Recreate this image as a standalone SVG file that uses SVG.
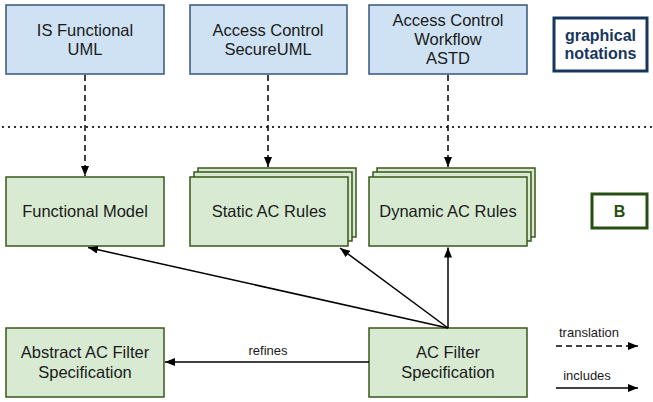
<svg xmlns="http://www.w3.org/2000/svg" width="653" height="402" viewBox="0 0 653 402">
<defs>
<style>
.blue{fill:#cfe2f3;stroke:#34567e;stroke-width:1.5}
.green{fill:#d9ead3;stroke:#38571a;stroke-width:1.5}
.t{font-family:"Liberation Sans",Arial,sans-serif;font-size:16.5px;fill:#1a1a1a;text-anchor:middle}
.s{font-family:"Liberation Sans",Arial,sans-serif;font-size:13px;fill:#1a1a1a;text-anchor:middle}
.sol{stroke:#000;stroke-width:1.5;fill:none;marker-end:url(#ah)}
.dash{stroke:#000;stroke-width:1.5;fill:none;stroke-dasharray:6 4;marker-end:url(#ah)}
</style>
<marker id="ah" viewBox="0 0 10 8" refX="10" refY="4" markerWidth="10" markerHeight="8" markerUnits="userSpaceOnUse" orient="auto">
<path d="M0,0 L10,4 L0,8 z" fill="#000"/>
</marker>
</defs>
<rect width="653" height="402" fill="#fff"/>
<line x1="2" y1="127" x2="653" y2="127" stroke="#333" stroke-width="2" stroke-dasharray="2 4"/>
<g id="is-functional-uml">
<rect class="blue" x="6" y="5" width="158" height="69"/>
<text class="t" x="85" y="36">IS Functional</text>
<text class="t" x="85" y="55">UML</text>
</g>
<g id="access-control-secureuml">
<rect class="blue" x="190" y="5" width="157" height="69"/>
<text class="t" x="268" y="36">Access Control</text>
<text class="t" x="268" y="55">SecureUML</text>
</g>
<g id="access-control-workflow-astd">
<rect class="blue" x="369" y="5" width="158" height="69"/>
<text class="t" x="448" y="26">Access Control</text>
<text class="t" x="448" y="45">Workflow</text>
<text class="t" x="448" y="64">ASTD</text>
</g>
<g id="graphical-notations">
<rect x="554" y="18" width="93" height="53" fill="#fff" stroke="#17365d" stroke-width="3"/>
<text class="t" x="600.5" y="41" style="font-weight:bold;font-size:16px;fill:#17365d">graphical</text>
<text class="t" x="600.5" y="59" style="font-weight:bold;font-size:16px;fill:#17365d">notations</text>
</g>
<g id="functional-model">
<rect class="green" x="6" y="177" width="158" height="69"/>
<text class="t" x="85" y="217">Functional Model</text>
</g>
<g id="static-ac-rules">
<rect class="green" x="198" y="168" width="158" height="69"/>
<rect class="green" x="194" y="172" width="158" height="69"/>
<rect class="green" x="190" y="177" width="158" height="69"/>
<text class="t" x="269" y="217">Static AC Rules</text>
</g>
<g id="dynamic-ac-rules">
<rect class="green" x="377" y="168" width="158" height="69"/>
<rect class="green" x="373" y="172" width="158" height="69"/>
<rect class="green" x="369" y="177" width="158" height="69"/>
<text class="t" x="448" y="217">Dynamic AC Rules</text>
</g>
<g id="b">
<rect x="592" y="194" width="55" height="34" fill="#fff" stroke="#274e13" stroke-width="3"/>
<text class="t" x="619.5" y="217" style="font-weight:bold;font-size:16px;fill:#274e13">B</text>
</g>
<g id="abstract-ac-filter-specification">
<rect class="green" x="6" y="328" width="158" height="69"/>
<text class="t" x="85" y="358">Abstract AC Filter</text>
<text class="t" x="85" y="378">Specification</text>
</g>
<g id="ac-filter-specification">
<rect class="green" x="369" y="328" width="158" height="69"/>
<text class="t" x="448" y="358">AC Filter</text>
<text class="t" x="448" y="378">Specification</text>
</g>
<g id="connectors">
<line class="dash" x1="85" y1="75" x2="85" y2="176"/>
<line class="dash" x1="268" y1="75" x2="268" y2="167"/>
<line class="dash" x1="448" y1="75" x2="448" y2="167"/>
<line class="sol" x1="448" y1="328" x2="88" y2="247.5"/>
<line class="sol" x1="448" y1="328" x2="340" y2="248"/>
<line class="sol" x1="448" y1="328" x2="448" y2="247.5"/>
<line class="sol" x1="369" y1="362" x2="165" y2="362"/>
<text class="s" x="268" y="355">refines</text>
</g>
<g id="legend">
<text class="s" x="589" y="337">translation</text>
<line class="dash" x1="556" y1="346" x2="638" y2="346"/>
<text class="s" x="587" y="380">includes</text>
<line class="sol" x1="556" y1="388" x2="638" y2="388"/>
</g>
</svg>
